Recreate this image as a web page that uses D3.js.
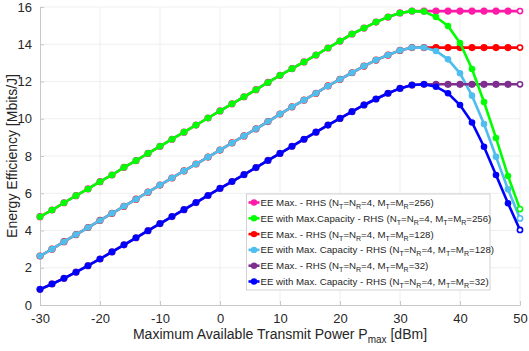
<!DOCTYPE html>
<head>
  <meta charset="utf-8">
  <script src="https://cdn.jsdelivr.net/npm/d3@7"></script>
  <style>
    body { margin: 0; background: #fff; }
    text { font-family: "Liberation Sans", Arial, sans-serif; }
  </style>
</head>
<body>
<div id="container"></div>
<script>
// data
const pmax = [-30,-28,-26,-24,-22,-20,-18,-16,-14,-12,-10,-8,-6,-4,-2,0,2,4,6,8,10,12,14,16,18,20,22,24,26,28,30,32,34,36,38,40,42,44,46,48,50];

const capM256 = [4.74,5.10,5.49,5.87,6.23,6.62,6.98,7.39,7.75,8.14,8.52,8.90,9.28,9.66,10.04,10.42,10.80,11.18,11.56,11.95,12.33,12.69,13.05,13.42,13.80,14.17,14.55,14.87,15.19,15.46,15.68,15.78,15.76,15.46,14.98,14.07,12.67,10.90,8.97,6.93,5.15];
const maxM256 = [4.74,5.10,5.49,5.87,6.23,6.62,6.98,7.39,7.75,8.14,8.52,8.90,9.28,9.66,10.04,10.42,10.80,11.18,11.56,11.95,12.33,12.69,13.05,13.42,13.80,14.17,14.55,14.87,15.19,15.46,15.68,15.78,15.78,15.78,15.78,15.78,15.78,15.78,15.78,15.78,15.78];
const capM128 = [2.63,3.00,3.40,3.78,4.16,4.54,4.92,5.30,5.68,6.06,6.44,6.82,7.20,7.57,7.94,8.32,8.70,9.08,9.46,9.85,10.25,10.64,11.00,11.37,11.76,12.12,12.47,12.83,13.15,13.42,13.67,13.82,13.82,13.64,13.19,12.44,11.24,9.72,7.96,6.21,4.65];
const maxM128 = [2.63,3.00,3.40,3.78,4.16,4.54,4.92,5.30,5.68,6.06,6.44,6.82,7.20,7.57,7.94,8.32,8.70,9.08,9.46,9.85,10.25,10.64,11.00,11.37,11.76,12.12,12.47,12.83,13.15,13.42,13.67,13.82,13.82,13.82,13.82,13.82,13.82,13.82,13.82,13.82,13.82];
const capM32 = [0.84,1.13,1.43,1.76,2.11,2.47,2.85,3.23,3.61,3.99,4.37,4.75,5.12,5.50,5.88,6.26,6.63,7.00,7.38,7.76,8.14,8.52,8.90,9.28,9.66,10.02,10.38,10.74,11.06,11.37,11.63,11.81,11.85,11.72,11.37,10.74,9.80,8.50,6.98,5.46,4.03];
const maxM32 = [0.84,1.13,1.43,1.76,2.11,2.47,2.85,3.23,3.61,3.99,4.37,4.75,5.12,5.50,5.88,6.26,6.63,7.00,7.38,7.76,8.14,8.52,8.90,9.28,9.66,10.02,10.38,10.74,11.06,11.37,11.63,11.81,11.85,11.85,11.85,11.85,11.85,11.85,11.85,11.85,11.85];

const xTicks = [-30,-20,-10,0,10,20,30,40,50];
const yTicks = [0,2,4,6,8,10,12,14,16];

// legend entries: main text, then the subscripted configuration
const series = [
  {label: 'EE Max. - RHS', m: '256', values: maxM256, color: '#ff1aa8', r: 3.6},
  {label: 'EE with Max.Capacity - RHS', m: '256', values: capM256, color: '#00ff00', r: 3.3},
  {label: 'EE Max. - RHS', m: '128', values: maxM128, color: '#ff0000', r: 3.6},
  {label: 'EE with Max. Capacity - RHS', m: '128', values: capM128, color: '#4dbeee', r: 3.3},
  {label: 'EE Max. - RHS', m: '32', values: maxM32, color: '#7e2f8e', r: 3.6},
  {label: 'EE with Max. Capacity - RHS', m: '32', values: capM32, color: '#0000ff', r: 3.3}
];
// the order the lines are stacked in
const drawOrder = [0, 2, 3, 4, 1, 5];

const width = 529, height = 351;
const margin = {top: 7, right: 9, bottom: 46, left: 40};
const plotW = width - margin.left - margin.right;
const plotH = height - margin.top - margin.bottom;

const svg = d3.select('#container').append('svg')
  .attr('width', width)
  .attr('height', height);

const g = svg.append('g')
  .attr('transform', `translate(${margin.left},${margin.top})`);

const x = d3.scaleLinear().domain([-30, 50]).range([0, plotW]);
const y = d3.scaleLinear().domain([0, 16]).range([plotH, 0]);

// grid
g.append('g').selectAll('line').data(xTicks.slice(1)).join('line')
  .attr('x1', d => x(d)).attr('x2', d => x(d))
  .attr('y1', 0).attr('y2', plotH)
  .attr('stroke', '#ebebeb').attr('stroke-width', 0.8);
g.append('g').selectAll('line').data(yTicks.slice(1)).join('line')
  .attr('x1', 0).attr('x2', plotW)
  .attr('y1', d => y(d)).attr('y2', d => y(d))
  .attr('stroke', '#ebebeb').attr('stroke-width', 0.8);

// axes, ticks pointing inwards like matlab
const fmt = d => String(d);
const xAxis = g.append('g')
  .attr('transform', `translate(0,${plotH})`)
  .call(d3.axisBottom(x).tickValues(xTicks).tickFormat(fmt).tickSize(-4).tickPadding(9));
const yAxis = g.append('g')
  .call(d3.axisLeft(y).tickValues(yTicks).tickFormat(fmt).tickSize(-4).tickPadding(8));

[xAxis, yAxis].forEach(ax => {
  ax.select('.domain').attr('stroke', '#c8c8c8');
  ax.selectAll('.tick line').attr('stroke', '#c8c8c8');
  ax.selectAll('.tick text').attr('fill', '#262626').style('font-size', '13px');
});

// lines
const line = d3.line()
  .x((d, i) => x(pmax[i]))
  .y(d => y(d));

drawOrder.forEach(k => {
  const s = series[k];
  const grp = g.append('g');
  grp.append('path')
    .attr('d', line(s.values))
    .attr('fill', 'none')
    .attr('stroke', s.color)
    .attr('stroke-width', 2.6);
  grp.selectAll('circle').data(s.values).join('circle')
    .attr('cx', (d, i) => x(pmax[i]))
    .attr('cy', d => y(d))
    .attr('r', (d, i) => i === pmax.length - 1 ? 2.6 : s.r)
    .attr('fill', (d, i) => i === pmax.length - 1 ? '#fff' : s.color)
    .attr('stroke', s.color)
    .attr('stroke-width', (d, i) => i === pmax.length - 1 ? 1.6 : 0);
});

// axis labels
const xLabel = svg.append('text')
  .attr('x', margin.left + plotW / 2)
  .attr('y', 339)
  .attr('text-anchor', 'middle')
  .attr('fill', '#262626')
  .style('font-size', '14px');
xLabel.append('tspan').text('Maximum Available Transmit Power P');
xLabel.append('tspan').attr('dy', 4).style('font-size', '10px').text('max');
xLabel.append('tspan').attr('dy', -4).text(' [dBm]');

svg.append('text')
  .attr('transform', `translate(17,${margin.top + plotH / 2}) rotate(-90)`)
  .attr('text-anchor', 'middle')
  .attr('fill', '#262626')
  .style('font-size', '14px')
  .text('Energy Efficiency [Mbits/J]');

// legend
const lg = svg.append('g').attr('transform', 'translate(246.5,194)');
lg.append('rect')
  .attr('width', 243.5).attr('height', 96)
  .attr('fill', '#fff')
  .attr('stroke', '#c8c8c8').attr('stroke-width', 0.8);

const row = lg.selectAll('.row').data(series).join('g')
  .attr('transform', (d, i) => `translate(0,${8.5 + i * 15.8})`);
row.append('line')
  .attr('x1', 2).attr('x2', 13)
  .attr('stroke', d => d.color).attr('stroke-width', 2.6);
row.append('circle')
  .attr('cx', 7.5).attr('r', 3.2)
  .attr('fill', d => d.color);

const txt = row.append('text')
  .attr('x', 14)
  .attr('y', 3.5)
  .attr('fill', '#262626')
  .style('font-size', '9.7px');
txt.append('tspan').text(d => d.label + ' (N');
txt.append('tspan').attr('dy', 3).style('font-size', '7px').text('T');
txt.append('tspan').attr('dy', -3).text('=N');
txt.append('tspan').attr('dy', 3).style('font-size', '7px').text('R');
txt.append('tspan').attr('dy', -3).text('=4, M');
txt.append('tspan').attr('dy', 3).style('font-size', '7px').text('T');
txt.append('tspan').attr('dy', -3).text('=M');
txt.append('tspan').attr('dy', 3).style('font-size', '7px').text('R');
txt.append('tspan').attr('dy', -3).text(d => '=' + d.m + ')');
</script>
</body>
